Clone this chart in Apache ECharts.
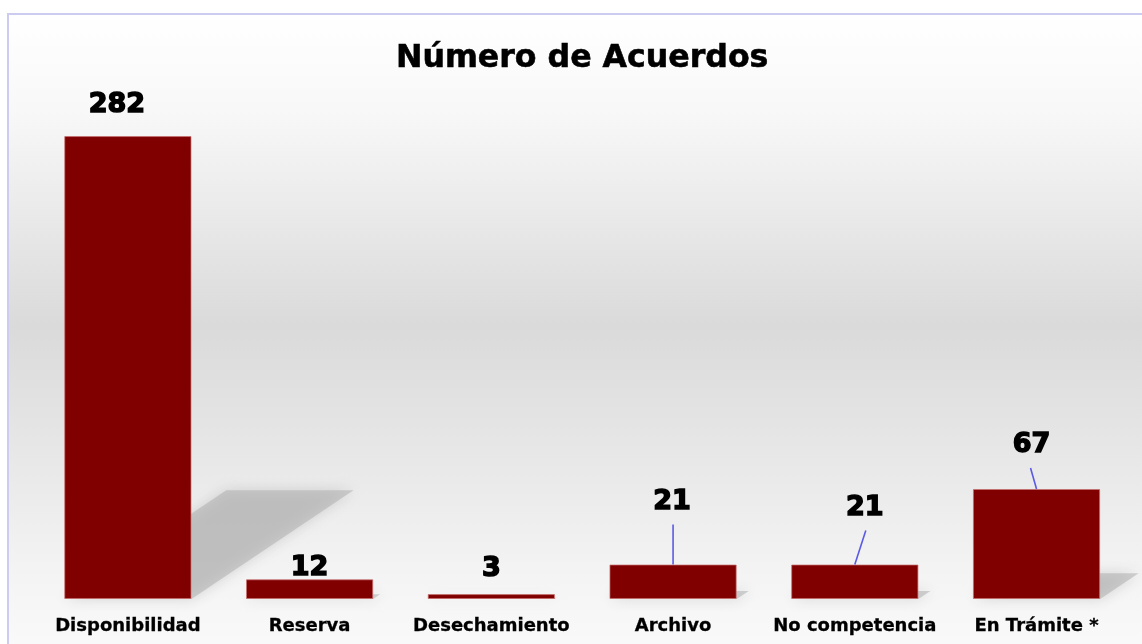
<!DOCTYPE html>
<html>
<head>
<meta charset="utf-8">
<script src="https://cdn.jsdelivr.net/npm/echarts@6.0.0/dist/echarts.min.js"></script>
<style>
  html, body { margin: 0; padding: 0; background: #fff; }
  #chart { width: 1142px; height: 644px; }
</style>
</head>
<body>
<div id="chart"></div>
<script>
// datos
const categories = ['Disponibilidad', 'Reserva', 'Desechamiento', 'Archivo', 'No competencia', 'En Trámite *']
const acuerdos = [282, 12, 3, 21, 21, 67]

// desplazamiento de las etiquetas respecto a la posicion 'top'
const labelShift = [[-11, -13], [0, 7], [0, -7], [-1, -44], [10, -38], [-5, -26]]
// lineas guia: [dx, largo] desde el centro superior de la barra (0 = sin linea)
const guides = [[0, 0], [0, 0], [0, 0], [0, 40], [11, 34], [-6, 21]]

const chart = echarts.init(document.getElementById('chart'))

const option = {
  animation: false,
  graphic: [
    {
      type: 'rect',
      z: -10,
      silent: true,
      shape: { x: 8, y: 14, width: 1150, height: 650 },
      style: {
        fill: new echarts.graphic.LinearGradient(0, 0, 0, 1, [
          { offset: 0, color: '#ffffff' },
          { offset: 0.15, color: '#f8f8f8' },
          { offset: 0.48, color: '#dadada' },
          { offset: 0.85, color: '#f3f3f3' },
          { offset: 1, color: '#fbfbfb' }
        ]),
        stroke: '#ccccf0',
        lineWidth: 2
      }
    }
  ],
  title: {
    text: 'Número de Acuerdos',
    left: 391,
    top: 38,
    textStyle: {
      fontFamily: 'DejaVu Sans',
      fontWeight: 'bold',
      fontSize: 31.6,
      color: '#000',
      textBorderColor: '#000',
      textBorderWidth: 0.6
    }
  },
  grid: {
    left: 37,
    right: 14.6,
    top: 106.5,
    bottom: 45
  },
  xAxis: {
    type: 'category',
    data: categories,
    axisLine: { show: false },
    axisTick: { show: false },
    axisLabel: {
      margin: 18,
      interval: 0,
      fontFamily: 'DejaVu Sans',
      fontWeight: 'bold',
      fontSize: 18,
      color: '#000',
      textBorderColor: '#000',
      textBorderWidth: 0.3
    }
  },
  yAxis: {
    type: 'value',
    min: 0,
    max: 300,
    show: false,
    splitLine: { show: false }
  },
  series: [
    {
      // sombra proyectada detras de cada barra
      type: 'custom',
      z: 1,
      silent: true,
      data: acuerdos,
      renderItem: function (params, api) {
        const base = api.coord([api.value(0), 0])
        const top = api.coord([api.value(0), api.value(1)])
        const w = api.size([1, 0])[0] * 0.7
        const h = base[1] - top[1]
        const xl = base[0] - w / 2
        const xr = base[0] + w / 2
        const sx = h * 0.35
        const sy = h * 0.235
        return {
          type: 'polygon',
          shape: {
            points: [
              [xl, base[1]],
              [xr, base[1]],
              [xr + sx, base[1] - sy],
              [xl + sx, base[1] - sy]
            ]
          },
          style: {
            fill: 'rgba(175,175,175,0.55)',
            shadowBlur: 14,
            shadowColor: 'rgba(175,175,175,0.9)'
          }
        }
      },
      encode: { x: 0, y: 1 }
    },
    {
      // lineas guia de las etiquetas
      type: 'custom',
      z: 4,
      silent: true,
      data: acuerdos,
      renderItem: function (params, api) {
        const g = guides[params.dataIndex]
        if (!g[1]) return null
        const top = api.coord([api.value(0), api.value(1)])
        return {
          type: 'line',
          shape: { x1: top[0], y1: top[1], x2: top[0] + g[0], y2: top[1] - g[1] },
          style: { stroke: '#5a5ae6', lineWidth: 1.6 }
        }
      },
      encode: { x: 0, y: 1 }
    },
    {
      type: 'bar',
      z: 3,
      barWidth: '70%',
      data: acuerdos,
      itemStyle: {
        color: '#800000',
        borderColor: 'rgba(200,110,110,0.7)',
        borderWidth: 1
      },
      label: {
        show: true,
        position: 'top',
        distance: 5,
        fontFamily: 'DejaVu Sans',
        fontWeight: 'bold',
        fontSize: 27,
        color: '#000',
        textBorderColor: '#000',
        textBorderWidth: 1.5
      },
      labelLayout: function (p) {
        const s = labelShift[p.dataIndex]
        return { dx: s[0], dy: s[1] }
      }
    }
  ]
}

chart.setOption(option)
</script>
</body>
</html>
